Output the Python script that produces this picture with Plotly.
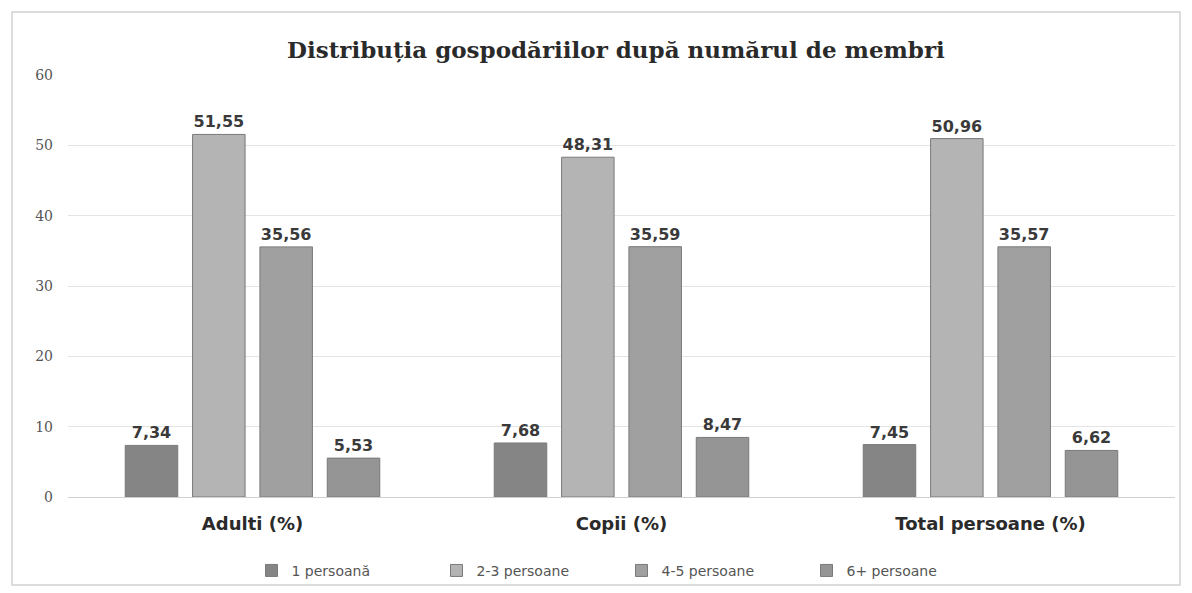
import plotly.graph_objects as go

categories = ["Adulti (%)", "Copii (%)", "Total persoane (%)"]
series_names = ["1 persoană", "2-3 persoane", "4-5 persoane", "6+ persoane"]
v_1 = [7.34, 7.68, 7.45]
v_23 = [51.55, 48.31, 50.96]
v_45 = [35.56, 35.59, 35.57]
v_6 = [5.53, 8.47, 6.62]
values = [v_1, v_23, v_45, v_6]
colors = ["#858585", "#b4b4b4", "#a0a0a0", "#959595"]
y_ticks = [0, 10, 20, 30, 40, 50, 60]

fig = go.Figure()
for name, vals, col in zip(series_names, values, colors):
    fig.add_trace(go.Bar(
        x=categories, y=vals, name=name,
        marker=dict(color=col, line=dict(color="#7a7a7a", width=1)),
        text=[f"{v:.2f}".replace(".", ",") for v in vals],
        textposition="outside", cliponaxis=False,
        textfont=dict(family="DejaVu Sans", size=16, color="#3a3a3a", weight="bold"),
    ))

fig.update_layout(
    width=1192, height=593,
    paper_bgcolor="white", plot_bgcolor="white",
    margin=dict(l=60, r=25, t=67, b=104),
    barmode="group", bargap=0.27, bargroupgap=0.22,
    title=dict(text="<b>Distribuția gospodăriilor după numărul de membri</b>",
               x=0.51, xanchor="center", y=0.93, yanchor="middle",
               font=dict(family="DejaVu Serif", size=23, color="#2a2a2a")),
    legend=dict(orientation="h", x=0.5, xanchor="center", y=-0.175, yanchor="middle",
                bgcolor="rgba(0,0,0,0)", entrywidth=140, entrywidthmode="pixels",
                font=dict(family="DejaVu Sans", size=14, color="#555555"),
                itemwidth=30, traceorder="normal"),
    yaxis=dict(range=[0, 60], tickvals=y_ticks, showgrid=True, gridcolor="#e4e4e4",
               zeroline=False, showline=False, ticks="", ticklabelstandoff=14,
               tickfont=dict(family="DejaVu Serif", size=14, color="#555555")),
    xaxis=dict(showline=True, linecolor="#d0d0d0", ticks="", ticklabelstandoff=10,
               tickfont=dict(family="DejaVu Sans", size=18, color="#2a2a2a", weight="bold")),
    shapes=[dict(type="rect", xref="paper", yref="paper",
                 x0=-0.0506, x1=1.0045, y0=-0.2085, y1=1.149,
                 line=dict(color="#dcdcdc", width=2))],
)

fig.write_html("out.html")
